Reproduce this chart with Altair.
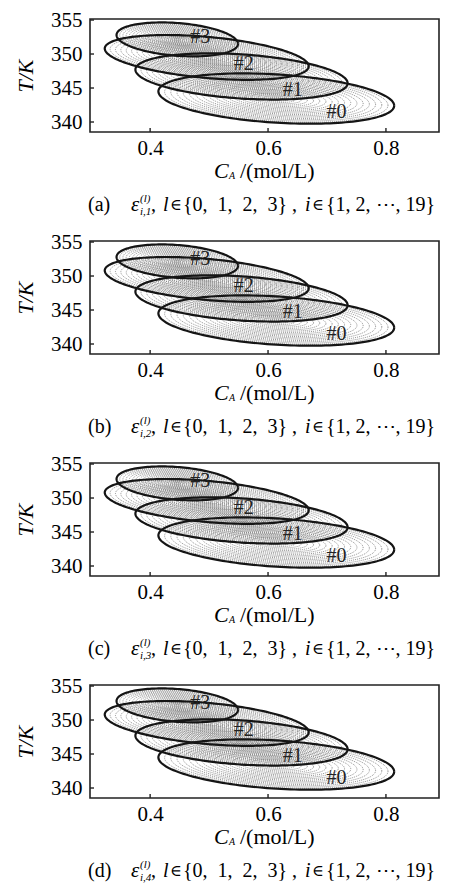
import altair as alt
import pandas as pd

SERIF = "Liberation Serif"
SYM = "DejaVu Serif"

# ---- data ----
ell_id = [0, 1, 2, 3]
ell_cx = [0.614, 0.555, 0.496, 0.446]      # centre C_A
ell_ax = [0.200, 0.180, 0.173, 0.103]      # half extent along C_A
ell_cy = [343.45, 346.70, 349.50, 352.15]  # centre T
ell_bc = [-1.05, -1.00, -1.30, -0.65]      # tilt term
ell_cs = [3.55, 3.25, 3.03, 2.41]          # vertical half-width term

lab_text = ["#0", "#1", "#2", "#3"]
lab_x = [0.716, 0.642, 0.559, 0.485]
lab_y = [341.4, 344.7, 348.6, 352.5]

x_ticks = [0.4, 0.6, 0.8]
y_ticks = [340, 345, 350, 355]

panel_tag = ["(a)", "(b)", "(c)", "(d)"]
panel_sub = ["i,1", "i,2", "i,3", "i,4"]

W, H = 349, 113

ell_df = pd.DataFrame({"l": ell_id, "cx": ell_cx, "ax": ell_ax,
                       "cy": ell_cy, "bc": ell_bc, "cs": ell_cs})
lab_df = pd.DataFrame({"txt": lab_text, "lx": lab_x, "ly": lab_y})
xt_df = pd.DataFrame({"v": x_ticks})
yt_df = pd.DataFrame({"v": y_ticks})

xs = alt.Scale(domain=[0.298, 0.89], nice=False, zero=False)
ys = alt.Scale(domain=[338.53, 355.15], nice=False, zero=False)


def X(f):
    return alt.X(f, type="quantitative", scale=xs, title=None,
                 axis=alt.Axis(values=x_ticks, format=".1f"))


def Y(f):
    return alt.Y(f, type="quantitative", scale=ys, title="T/K",
                 axis=alt.Axis(values=y_ticks, format="d"))


def ellipse_base():
    return (alt.Chart(ell_df)
            .transform_calculate(ks="sequence(1, 20)")
            .transform_flatten(["ks"], as_=["k"])
            .transform_calculate(js="sequence(0, 161)")
            .transform_flatten(["js"], as_=["j"])
            .transform_calculate(t="datum.j * 2 * PI / 160")
            .transform_calculate(s="datum.k / 19")
            .transform_calculate(px="datum.cx + datum.ax * datum.s * cos(datum.t)")
            .transform_calculate(py="datum.cy + datum.s * (datum.bc * cos(datum.t) + datum.cs * sin(datum.t))"))


one = alt.Data(values=[{"a": 1}])


def txt(s, x, y, size=20, style="normal", align="left", font=SERIF):
    return alt.Chart(one).mark_text(
        text=s, font=font, fontSize=size, fontStyle=style, align=align,
        baseline="middle", color="black").encode(x=alt.value(x), y=alt.value(y))


def panel(tag, sub):
    rings = ellipse_base().transform_filter("datum.k < 19").mark_line(
        strokeDash=[1, 1], strokeWidth=0.8, color="#777777"
    ).encode(x=X("px"), y=Y("py"), detail=["l:N", "k:Q"], order="j:Q")
    outline = ellipse_base().transform_filter("datum.k == 19").mark_line(
        strokeWidth=2.2, color="#151515"
    ).encode(x=X("px"), y=Y("py"), detail="l:N", order="j:Q")
    labels = alt.Chart(lab_df).mark_text(
        font=SERIF, fontSize=20, color="#222"
    ).encode(x=X("lx"), y=Y("ly"), text="txt:N")
    xtk = alt.Chart(xt_df).mark_rule(color="#222", strokeWidth=1.4).encode(
        x=X("v"), y=alt.value(H), y2=alt.value(H - 4))
    ytk = alt.Chart(yt_df).mark_rule(color="#222", strokeWidth=1.4).encode(
        y=Y("v"), x=alt.value(0), x2=alt.value(4))
    cy = H + 73
    parts = [
        txt("C", 124, H + 39, 22, "italic"),
        txt("A", 139, H + 44, 10, "italic"),
        txt("/(mol/L)", 150, H + 39, 22),
        txt(tag, -2, cy, 20),
        txt("\u03b5", 41, cy, 21, "italic"),
        txt("(l)", 50, cy - 6, 11, "italic"),
        txt(sub, 50, cy + 7, 11, "italic"),
        txt(",", 61, cy, 20),
        txt("l", 73, cy, 20, "italic"),
        txt("\u2208", 80, cy, 16, font=SYM),
        txt("{0,\u20021,\u20022,\u20023}", 93, cy, 20),
        txt(",", 202, cy, 20),
        txt("i", 215, cy, 20, "italic"),
        txt("\u2208", 222, cy, 16, font=SYM),
        txt("{1, 2, \u22ef, 19}", 236, cy, 20),
    ]
    return alt.layer(rings, outline, labels, xtk, ytk, *parts).properties(width=W, height=H)


chart = alt.vconcat(*[panel(t, s) for t, s in zip(panel_tag, panel_sub)], spacing=109)
chart = chart.properties(
    bounds="flush",
    padding={"left": 5, "top": 0, "right": 0, "bottom": 0},
).configure_view(
    stroke="#222", strokeWidth=1.6
).configure_axis(
    labelFont=SERIF, labelFontSize=21, labelColor="black", ticks=False,
    domain=False, grid=False, titleFont=SERIF, titleFontSize=22,
    titleFontStyle="italic", titleFontWeight="normal", titleColor="black"
).configure_axisX(labelPadding=5).configure_axisY(labelPadding=8, titlePadding=13)

chart.save("out.html", embed_options={"renderer": "svg", "actions": False})
